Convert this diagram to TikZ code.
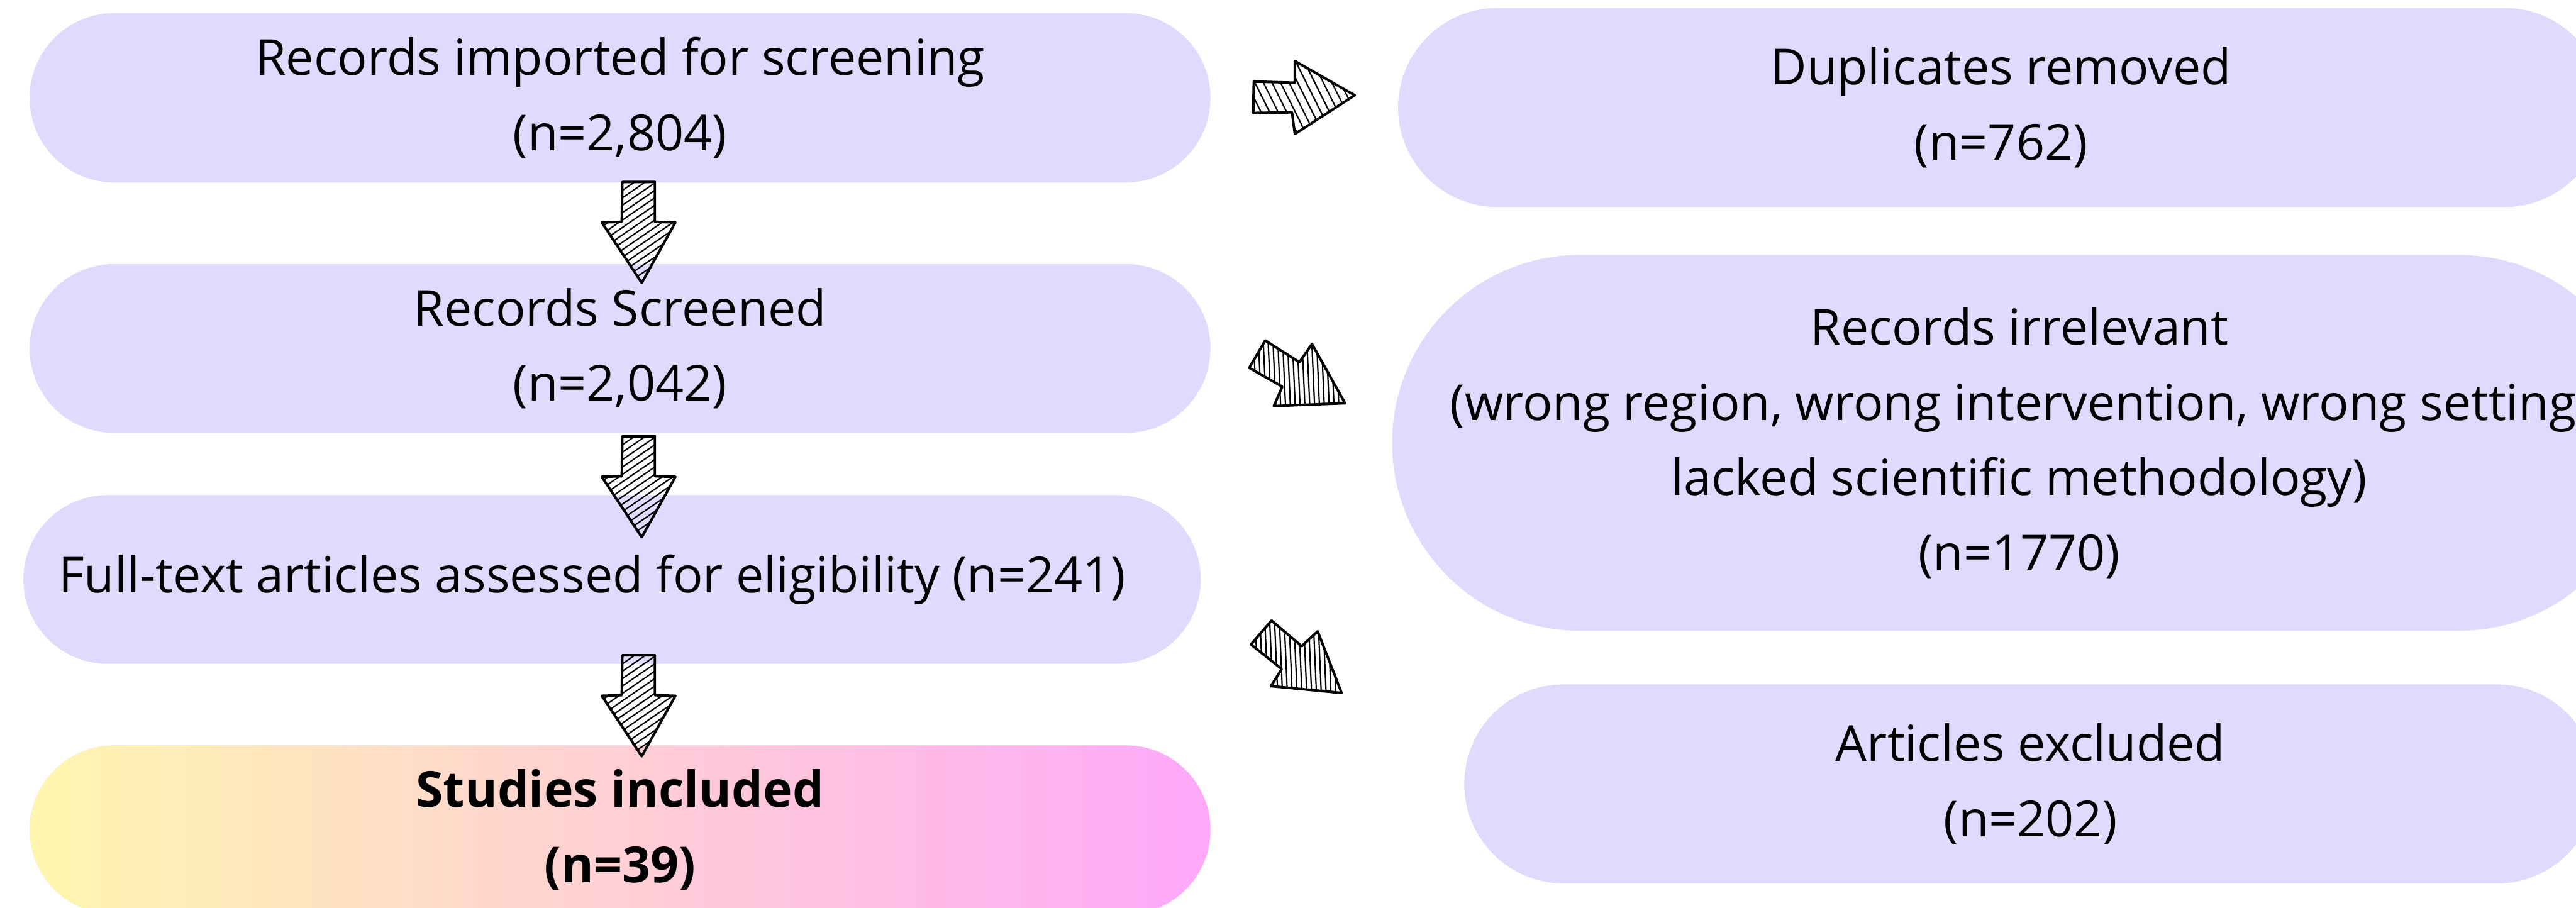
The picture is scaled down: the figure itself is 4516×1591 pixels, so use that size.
\documentclass[tikz,border=0pt]{standalone}
\usepackage{fontspec}
\setmainfont{Open Sans}
\usetikzlibrary{shapes.misc}
\definecolor{lav}{RGB}{224,219,254}
\definecolor{gy}{RGB}{255,246,174}
\definecolor{gp}{RGB}{255,168,250}
\tikzset{
  txt/.style={align=center, inner sep=0pt, font=\fontsize{21.75}{33}\selectfont},
  box/.style={rounded rectangle, fill=lav, draw=none, txt},
  hatch/.style={line width=0.6pt, line cap=round},
  outline/.style={line width=1.1pt, line join=round},
}
\newcommand\sketcharrow[2]{%
  \begin{scope}\clip #1;\foreach \i in {0,...,24}{\draw[hatch] #2;}\end{scope}
  \draw[outline] #1;}
\begin{document}
\begin{tikzpicture}[x=0.25pt,y=-0.25pt]
\useasboundingbox (0,0) rectangle (4516,1591);
\clip (0,0) rectangle (4516,1591);
\fill[white] (0,0) rectangle (4516,1591);
% left column
\node[box, minimum width=517.5pt, minimum height=74.25pt] (b1) at (1087,171.5)
  {Records imported for screening\\(n=2,804)};
\node[box, minimum width=517.5pt, minimum height=74pt] (b2) at (1087,611)
  {Records Screened\\(n=2,042)};
\node[box, minimum width=516pt, minimum height=74pt] (b3) at (1073,1016) {};
\node[txt] (t3) at (1038,1016) {Full-text articles assessed for eligibility (n=241)};
\node[box, left color=gy, right color=gp, minimum width=517.5pt, minimum height=74pt, font=\fontsize{21.75}{33}\selectfont\bfseries] (b4) at (1087,1455)
  {Studies included\\(n=39)};
% right column
\node[box, minimum width=528.5pt, minimum height=87.25pt] (r1) at (3508,188.5)
  {Duplicates removed\\(n=762)};
\node[box, minimum width=530pt, minimum height=164.75pt] (r2) at (3540,776.5)
  {Records irrelevant\\(wrong region, wrong intervention, wrong setting,\\lacked scientific methodology)\\(n=1770)};
\node[box, minimum width=496.25pt, minimum height=87.25pt] (r3) at (3559.5,1374.5)
  {Articles excluded\\(n=202)};
% right arrow
\sketcharrow{(2198,143) -- (2270,145) -- (2270,107) -- (2375,167) -- (2270,235) -- (2265,197) -- (2197,198) -- cycle}
  {({2130+\i*15},95) -- ++(75,150)}
% down arrows
\foreach \dy in {0,446,830}{
\begin{scope}[shift={(0,\dy)}]
\sketcharrow{(1091,319) -- (1148,319) -- (1148,389) -- (1184,390) -- (1125,496) -- (1055,390) -- (1090,389) -- cycle}
  {(1040,{330+\i*13}) -- ++(160,-110)}
\end{scope}}
% diagonal arrows
\sketcharrow{(2218,597) -- (2278,635) -- (2300,603) -- (2358,707) -- (2233,712) -- (2248,678) -- (2190,645) -- cycle}
  {({2180+\i*8.5},585) -- ++(6,135)}
\sketcharrow{(2229,1088) -- (2282,1133) -- (2310,1107) -- (2352,1215) -- (2228,1203) -- (2247,1173) -- (2193,1130) -- cycle}
  {({2183+\i*8.5},1080) -- ++(6,140)}
\end{tikzpicture}
\end{document}
